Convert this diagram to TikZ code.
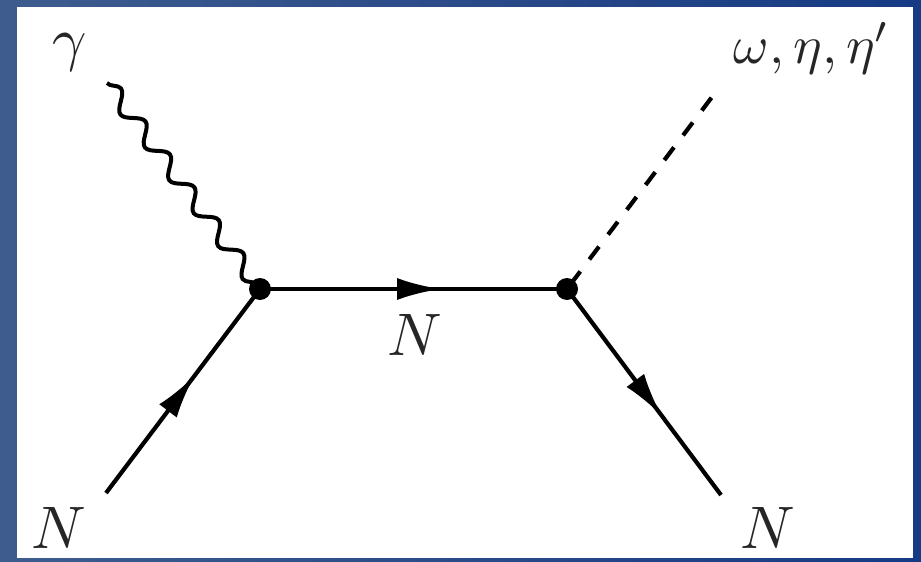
\documentclass[tikz,border=0pt]{standalone}
\usetikzlibrary{decorations.pathmorphing,decorations.markings,arrows.meta}
\definecolor{bgleft}{RGB}{62,92,142}
\definecolor{bgright}{RGB}{22,58,132}
\begin{document}
\begin{tikzpicture}[x=1pt,y=-1pt,
  fermion/.style={line width=4.2pt, postaction={decorate},
    decoration={markings, mark=at position #1 with {\arrow{Latex[length=44pt,width=22pt]}}}},
  photon/.style={line width=4pt, decorate,
    decoration={snake, amplitude=8pt, segment length=41pt}},
  scalar/.style={line width=4.2pt, dash pattern=on 16pt off 15.1pt, dash phase=25.1pt},
  vtx/.style={circle, fill=black, inner sep=0pt, minimum size=22pt},
  lbl/.style={anchor=base, inner sep=0pt, text=black!85}]
\useasboundingbox (0,0) rectangle (921,562);
\shade[left color=bgleft, right color=bgright] (0,0) rectangle (921,562);
\fill[white] (17,7) rectangle (913,558);
% vertices and end points
\node[vtx] (v1) at (260,289) {};
\node[vtx] (v2) at (567,289) {};
\coordinate (a) at (106,493);
\coordinate (g) at (107,83);
\coordinate (d) at (712,97);
\coordinate (b) at (721,495);
% lines
\draw[photon] (g) -- (v1.center);
\draw[fermion=0.575] (a) -- (v1.center);
\draw[fermion=0.59] (v1.center) -- (v2.center);
\draw[fermion=0.615] (v2.center) -- (b);
\draw[scalar] (v2.center) -- (d);
% labels
\node[lbl, scale=6] (lg) at (70,59) {$\gamma$};
\node[lbl, scale=5.4] (lm) at (812,63) {$\omega, \eta, \eta'$};
\node[lbl, scale=6] (ln1) at (59,548) {$N$};
\node[lbl, scale=6] (ln2) at (415,355) {$N$};
\node[lbl, scale=6] (ln3) at (768,548) {$N$};
\end{tikzpicture}
\end{document}
